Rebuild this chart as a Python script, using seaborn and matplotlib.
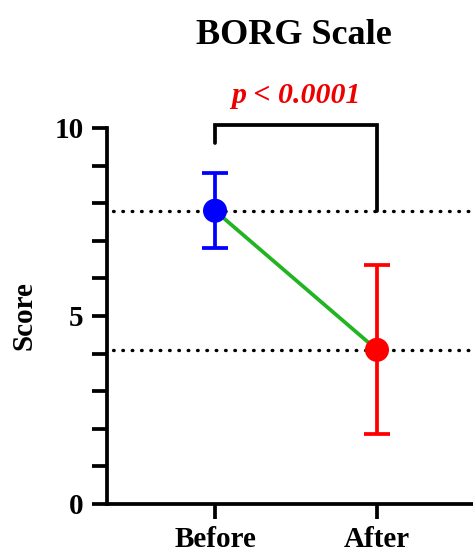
import matplotlib
matplotlib.use("Agg")
from matplotlib import pyplot as plt
import numpy as np
import pandas as pd
import seaborn as sns

# data
groups = ["Before", "After"]
means = [7.8, 4.1]
sds = [1.0, 2.25]
point_colors = ["#0000ff", "#ff0000"]
y_ticks = [0, 5, 10]
p_label = "p < 0.0001"

df = pd.DataFrame({"group": groups, "score": means, "sd": sds, "pos": [0, 1]})

sns.set_style("ticks")
plt.rcParams["font.family"] = ["Liberation Serif", "DejaVu Serif"]
plt.rcParams["font.weight"] = "bold"
plt.rcParams["text.color"] = "black"
plt.rcParams["axes.labelcolor"] = "black"
plt.rcParams["xtick.color"] = "black"
plt.rcParams["ytick.color"] = "black"
plt.rcParams["axes.edgecolor"] = "black"

fig = plt.figure(figsize=(4.73, 5.57), dpi=100)
ax = fig.add_axes([107 / 473, 53 / 557, 378 / 473, 376 / 557])

lw = 2.7

# dotted reference lines at each mean
for m in means:
    ax.axhline(m, xmin=6 / 378, color="black", linestyle=(0, (0.2, 2.6)), linewidth=2.4,
               dash_capstyle="round", zorder=1)

# green connecting line
sns.lineplot(data=df, x="pos", y="score", color="#22b422", linewidth=lw, ax=ax, zorder=2, legend=False)

# error bars
for i, row in df.iterrows():
    ax.errorbar(row["pos"], row["score"], yerr=row["sd"], color=point_colors[i],
                elinewidth=lw, capsize=9.5, capthick=lw, fmt="none", zorder=3)

sns.scatterplot(data=df, x="pos", y="score", hue="group", palette=point_colors,
                s=300, edgecolor="none", ax=ax, zorder=4, legend=False)

# significance bracket
top = 10.07
ax.plot([0, 0, 1, 1], [9.6, top, top, means[0]], color="black", linewidth=lw,
        clip_on=False, zorder=5, solid_joinstyle="miter")
ax.text(0.5, 10.5, p_label, color="#ee0000", fontsize=21.5, fontweight="bold",
        fontstyle="italic", ha="center", va="bottom", clip_on=False)

ax.set_xlim(-0.667, 1.667)
ax.set_ylim(0, 10)
ax.set_yticks(y_ticks)
ax.set_yticks(np.arange(0, 11, 1), minor=True)
ax.set_xticks([0, 1])
ax.set_xticklabels(groups)
ax.tick_params(axis="both", which="both", length=11, width=lw, labelsize=21, pad=6)
ax.tick_params(axis="x", pad=5)
ax.tick_params(axis="y", which="minor", length=11, width=lw)
for lbl in ax.get_xticklabels() + ax.get_yticklabels():
    lbl.set_fontweight("bold")

for side in ["top", "right"]:
    ax.spines[side].set_visible(False)
for side in ["left", "bottom"]:
    ax.spines[side].set_linewidth(lw)

ax.set_xlabel("")
ax.set_ylabel("Score", fontsize=21, fontweight="bold", labelpad=12)
fig.text(294 / 473, 1 - 35 / 557, "BORG Scale", fontsize=26, fontweight="bold",
         ha="center", va="center")

fig.savefig("out.png", dpi=100)
